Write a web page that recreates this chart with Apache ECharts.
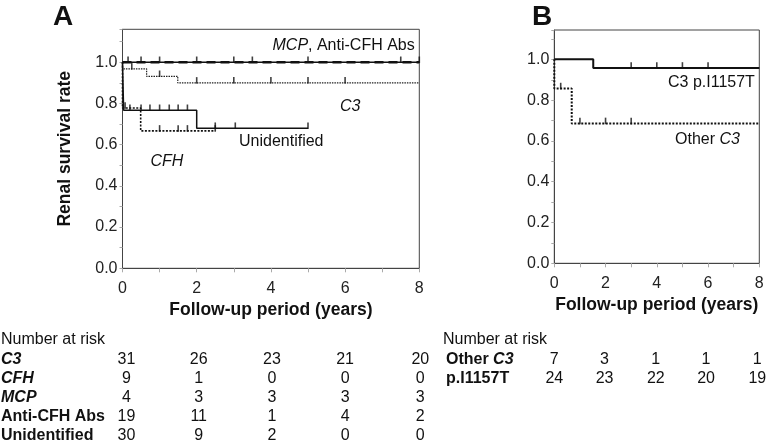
<!DOCTYPE html>
<html><head><meta charset="utf-8">
<script src="https://cdn.jsdelivr.net/npm/echarts@6/dist/echarts.min.js"></script>
<style>html,body{margin:0;padding:0;background:#fff}#c{width:767px;height:448px}</style>
</head><body><div id="c"></div>
<script>
const FONT = "'Liberation Sans', Arial, Helvetica, sans-serif";

// ---------- Panel A curves (time in years, survival) ----------
const mcpTime = [0, 8];
const mcpSurv = [1.0, 1.0];
const mcpCensor = [0.15, 0.5, 1.0, 2.0, 3.0, 3.5, 5.0, 7.5, 8.0];

const antiTime = [0, 8];
const antiSurv = [1.0, 1.0];

const c3Time = [0, 0, 0.65, 1.49, 8];
const c3Surv = [1.0, 0.968, 0.932, 0.90, 0.90];
const c3Censor = [0.25, 1.0, 2.0, 3.0, 4.0, 5.0, 6.0];

const cfhTime = [0, 0, 0.49, 2.5];
const cfhSurv = [1.0, 0.778, 0.667, 0.667];
const cfhCensor = [0.07, 1.0, 1.5, 1.75, 2.5];

const unidTime = [0, 0.03, 2.0, 5.0];
const unidSurv = [1.0, 0.767, 0.68, 0.68];
const unidCensor = [0.2, 0.5, 0.74, 1.0, 1.26, 1.5, 1.75, 2.5, 3.04, 5.0];

// ---------- Panel B curves ----------
const pTime = [0, 1.52, 8];
const pSurv = [1.0, 0.958, 0.958];
const pCensor = [3.0, 4.0, 5.0, 6.0];

const otherTime = [0, 0, 0.68, 8];
const otherSurv = [1.0, 0.857, 0.686, 0.686];
const otherCensor = [0.25, 1.0, 2.0, 3.0];

// ---------- Number at risk ----------
const riskYears = [0, 2, 4, 6, 8];
const riskA_C3 = [31, 26, 23, 21, 20];
const riskA_CFH = [9, 1, 0, 0, 0];
const riskA_MCP = [4, 3, 3, 3, 3];
const riskA_Anti = [19, 11, 1, 4, 2];
const riskA_Unid = [30, 9, 2, 0, 0];
const riskB_Other = [7, 3, 1, 1, 1];
const riskB_P = [24, 23, 22, 20, 19];

function pts(t, s) { return t.map((v, i) => [v, s[i]]); }
function survAt(t, s, x) { let v = s[0]; for (let i = 0; i < t.length; i++) { if (t[i] <= x) v = s[i]; } return v; }
function cens(t, s, c) { return c.map(x => [x, survAt(t, s, x)]); }

function stepLine(name, gi, t, s, width, type, color) {
  return { name, type: 'line', xAxisIndex: gi, yAxisIndex: gi, step: 'end', data: pts(t, s),
    showSymbol: false, symbol: 'none', silent: true, animation: false, clip: false,
    lineStyle: { color: color || '#111', width, type } };
}
function ticks(gi, data) {
  return { type: 'scatter', xAxisIndex: gi, yAxisIndex: gi, data, symbol: 'rect',
    symbolSize: [1.6, 6.5], symbolOffset: [0, -2.5], silent: true, animation: false, z: 5,
    itemStyle: { color: '#111' } };
}
function yAx(gi, max, name) {
  return { type: 'value', gridIndex: gi, min: 0, max, interval: 0.1,
    name: name || '', nameLocation: 'middle', nameGap: 48, nameRotate: 90,
    nameTextStyle: { fontFamily: FONT, fontWeight: 'bold', fontSize: 17.5, color: '#111' },
    axisLine: { show: true, lineStyle: { color: '#444', width: 1 } },
    axisTick: { show: true, length: 3, lineStyle: { color: '#aaa' } },
    splitLine: { show: false },
    axisLabel: { fontFamily: FONT, fontSize: 16, color: '#222', margin: 5,
      formatter: v => { const k = Math.round(v * 10); return (k % 2 === 0 && k <= 10) ? (k / 10).toFixed(1) : ''; } } };
}
function xAx(gi, gap) {
  return { type: 'value', gridIndex: gi, min: 0, max: 8, interval: 1,
    name: 'Follow-up period (years)', nameLocation: 'middle', nameGap: gap,
    nameTextStyle: { fontFamily: FONT, fontWeight: 'bold', fontSize: 17.5, color: '#111' },
    axisLine: { show: true, lineStyle: { color: '#444', width: 1 } },
    axisTick: { show: true, length: 4, lineStyle: { color: '#aaa' } },
    splitLine: { show: false },
    axisLabel: { fontFamily: FONT, fontSize: 16, color: '#222', margin: 12,
      formatter: v => (Math.round(v) % 2 === 0 ? String(Math.round(v)) : '') } };
}

const chart = echarts.init(document.getElementById('c'), null, { renderer: 'canvas' });
chart.setOption({
  backgroundColor: '#fff',
  animation: false,
  grid: [
    { left: 122.5, right: 347.7, top: 29.3, bottom: 179.7, show: true, borderColor: '#444', borderWidth: 1, containLabel: false },
    { left: 554.3, right: 7.7, top: 30, bottom: 184.7, show: true, borderColor: '#444', borderWidth: 1, containLabel: false }
  ],
  xAxis: [xAx(0, 22), xAx(1, 25)],
  yAxis: [yAx(0, 1.16, 'Renal survival rate'), yAx(1, 1.144)],
  series: [
    stepLine('C3', 0, c3Time, c3Surv, 1.2, [1.5, 1], '#222'),
    stepLine('CFH', 0, cfhTime, cfhSurv, 1.6, [2, 1.5]),
    stepLine('Unidentified', 0, unidTime, unidSurv, 1.5, 'solid'),
    stepLine('MCP', 0, mcpTime, mcpSurv, 1.5, 'solid'),
    stepLine('Anti-CFH Abs', 0, antiTime, antiSurv, 2.5, [9, 5]),
    ticks(0, cens(mcpTime, mcpSurv, mcpCensor)),
    ticks(0, cens(c3Time, c3Surv, c3Censor)),
    ticks(0, cens(cfhTime, cfhSurv, cfhCensor)),
    ticks(0, cens(unidTime, unidSurv, unidCensor)),
    stepLine('C3 p.I1157T', 1, pTime, pSurv, 2, 'solid'),
    stepLine('Other C3', 1, otherTime, otherSurv, 2, [2, 1.5]),
    ticks(1, cens(pTime, pSurv, pCensor)),
    ticks(1, cens(otherTime, otherSurv, otherCensor))
  ]
});

function txt(x, y, text, opt) {
  opt = opt || {};
  return { type: 'text', x, y, silent: true, z: 10,
    style: Object.assign({ text, fill: '#111', font: (opt.italic ? 'italic ' : '') + (opt.bold ? 'bold ' : '') + (opt.size || 16) + 'px ' + FONT,
      textAlign: opt.align || 'left', textVerticalAlign: 'middle' }, opt.rich ? { rich: opt.rich } : {}) };
}
const rs = (w, s) => ({ fontFamily: FONT, fontSize: 16, fontWeight: w, fontStyle: s, fill: '#111', color: '#111' });
const rich = { n: rs('normal', 'normal'), i: rs('normal', 'italic'), b: rs('bold', 'normal'), bi: rs('bold', 'italic') };

const g = [];
g.push(txt(53, 17, 'A', { bold: true, size: 28 }));
g.push(txt(532, 17, 'B', { bold: true, size: 28 }));
g.push(txt(272.5, 46, '{i|MCP}{n|, Anti-CFH Abs}', { rich }));
g.push(txt(340, 107, 'C3', { italic: true }));
g.push(txt(239, 142, 'Unidentified'));
g.push(txt(150.5, 162, 'CFH', { italic: true }));
g.push(txt(668, 83, 'C3 p.I1157T'));
g.push(txt(675, 140, '{n|Other }{i|C3}', { rich }));

// Number at risk tables
const colA = riskYears.map(y => chart.convertToPixel({ gridIndex: 0 }, [y, 0])[0]);
const colB = riskYears.map(y => chart.convertToPixel({ gridIndex: 1 }, [y, 0])[0]);
const adjA = [4, 2, 1, 0, 1];
const adjB = [0, -1, -1, -2, -2];
g.push(txt(1, 340, 'Number at risk'));
const rowsA = [
  ['{bi|C3}', riskA_C3], ['{bi|CFH}', riskA_CFH], ['{bi|MCP}', riskA_MCP],
  ['{b|Anti-CFH Abs}', riskA_Anti], ['{b|Unidentified}', riskA_Unid]
];
const rowYA = [360, 379, 398, 417, 436];
rowsA.forEach((r, i) => {
  g.push(txt(1, rowYA[i], r[0], { rich }));
  r[1].forEach((v, j) => g.push(txt(colA[j] + adjA[j], rowYA[i], String(v), { align: 'center' })));
});
g.push(txt(443, 340, 'Number at risk'));
const rowsB = [['{b|Other }{bi|C3}', riskB_Other], ['{b|p.I1157T}', riskB_P]];
const rowYB = [360, 379];
rowsB.forEach((r, i) => {
  g.push(txt(446, rowYB[i], r[0], { rich }));
  r[1].forEach((v, j) => g.push(txt(colB[j] + adjB[j], rowYB[i], String(v), { align: 'center' })));
});
chart.setOption({ graphic: { elements: g } });
</script>
</body></html>
